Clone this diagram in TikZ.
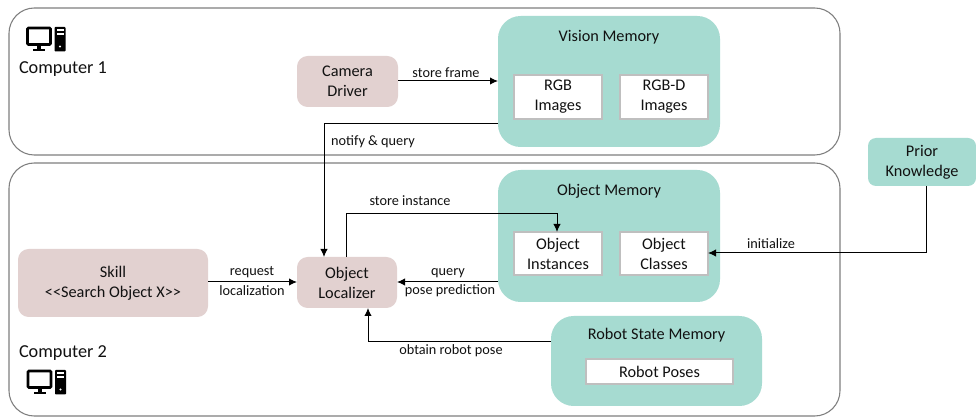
\documentclass[tikz,border=0pt]{standalone}
\usepackage{fontspec}
\setmainfont{Carlito}
\usetikzlibrary{arrows.meta,calc}
\definecolor{teal1}{HTML}{A6DBD1}
\definecolor{pink1}{HTML}{E2D1D0}
\definecolor{frame1}{HTML}{7F7F7F}
\definecolor{inner1}{HTML}{BFBFBF}
\definecolor{ink}{HTML}{111111}
\tikzset{
 every node/.style={text=ink,font=\fontsize{12.2pt}{15pt}\selectfont,align=center,inner sep=0pt,outer sep=0pt},
 computer/.style={draw=frame1,line width=0.8pt,fill=white,rounded corners=19pt},
 driver/.style={fill=pink1,rounded corners=8pt},
 memory/.style={fill=teal1,rounded corners=17pt},
 store/.style={fill=white,draw=inner1,line width=0.9pt},
 prior/.style={fill=teal1,rounded corners=6pt},
 conn/.style={draw=black,line width=0.75pt,-{Latex[length=6pt,width=5.5pt]}},
 lbl/.style={font=\fontsize{10.7pt}{13pt}\selectfont},
 big/.style={font=\fontsize{13.7pt}{16pt}\selectfont},
}
\newcommand{\pcicon}[2]{%
 \begin{scope}[shift={(#1,#2)}]
 \draw[black,line width=2pt,rounded corners=0.8pt] (0,0) rectangle (23,16.5);
 \fill[black] (9.5,17) rectangle (13.5,21);
 \fill[black] (5.5,21) rectangle (17.5,23.5);
 \fill[black,rounded corners=0.6pt] (27,-1) rectangle (38,23.5);
 \fill[white] (29,1.5) rectangle (36,3.5);
 \fill[white] (29,5.5) rectangle (36,7.5);
 \fill[white] (32.5,18.5) circle (1.1);
 \end{scope}}
\begin{document}
\begin{tikzpicture}[x=0.75pt,y=-0.75pt]
\useasboundingbox (0,0) rectangle (976,417);
\fill[white] (0,0) rectangle (976,417);
% computers
\node[computer,anchor=north west,minimum width=831*0.75pt,minimum height=147*0.75pt] (comp1) at (9,8) {};
\node[computer,anchor=north west,minimum width=831*0.75pt,minimum height=253*0.75pt] (comp2) at (9,163) {};
\node[big,anchor=west] (comp1l) at (19,69.5) {Computer 1};
\node[big,anchor=west] (comp2l) at (19,353.5) {Computer 2};
\pcicon{27.5}{28}
\pcicon{28}{371}
% memories
\node[memory,anchor=north west,minimum width=222*0.75pt,minimum height=131*0.75pt] (vm) at (498,16) {};
\node[memory,anchor=north west,minimum width=222*0.75pt,minimum height=132*0.75pt] (om) at (498,170) {};
\node[memory,anchor=north west,minimum width=211*0.75pt,minimum height=90*0.75pt] (rm) at (551,316) {};
\node (vmt) at (609,37) {Vision Memory};
\node (omt) at (609,191.5) {Object Memory};
\node (rmt) at (656.5,335) {Robot State Memory};
% stores
\node[store,anchor=north west,minimum width=88*0.75pt,minimum height=44*0.75pt] (rgb) at (514,75) {RGB\\Images};
\node[store,anchor=north west,minimum width=88*0.75pt,minimum height=44*0.75pt] (rgbd) at (620,75) {RGB-D\\Images};
\node[store,anchor=north west,minimum width=88*0.75pt,minimum height=43*0.75pt] (inst) at (514,232) {Object\\Instances};
\node[store,anchor=north west,minimum width=88*0.75pt,minimum height=43*0.75pt] (cls) at (620,232) {Object\\Classes};
\node[store,anchor=north west,minimum width=147*0.75pt,minimum height=25*0.75pt] (poses) at (586,359) {Robot Poses};
% drivers
\node[driver,anchor=north west,minimum width=101*0.75pt,minimum height=51*0.75pt] (cam) at (297,56) {Camera\\Driver};
\node[driver,anchor=north west,minimum width=190*0.75pt,minimum height=68*0.75pt] (skill) at (18,249) {Skill\\<{}<Search Object X>{}>};
\node[driver,anchor=north west,minimum width=100*0.75pt,minimum height=51*0.75pt] (loc) at (297,257) {Object\\Localizer};
\node[prior,anchor=north west,minimum width=108*0.75pt,minimum height=48*0.75pt] (prior) at (868,138) {Prior\\Knowledge};
% waypoints
\coordinate (w1) at (324,124);
\coordinate (w2) at (346,214);
\coordinate (w3) at (557,214);
\coordinate (w4) at (926,253);
\coordinate (w5) at (368,342);
% connectors
\draw[conn] (cam.east |- 0,81) -- (vm.west |- 0,81);
\draw[conn] (vm.west |- w1) -- (w1) -- (w1 |- loc.north);
\draw[conn] (w2 |- loc.north) -- (w2) -- (w3) -- (w3 |- inst.north);
\draw[conn] (om.west |- 0,282) -- (loc.east |- 0,282);
\draw[conn] (skill.east |- 0,282) -- (loc.west |- 0,282);
\draw[conn] (rm.west |- w5) -- (w5) -- (w5 |- loc.south);
\draw[conn] (w4 |- prior.south) -- (w4) -- (cls.east |- w4);
% labels
\node[lbl] (l1) at (446,72.5) {store frame};
\node[lbl] (l2) at (373,141.5) {notify \& query};
\node[lbl] (l3) at (410,200.5) {store instance};
\node[lbl] (l4) at (448,273.5) {query};
\node[lbl] (l5) at (450,290.5) {pose prediction};
\node[lbl] (l6) at (252,272.5) {request};
\node[lbl] (l7) at (252,290.5) {localization};
\node[lbl] (l8) at (451,350.5) {obtain robot pose};
\node[lbl] (l9) at (771,243.5) {initialize};
\end{tikzpicture}
\end{document}
